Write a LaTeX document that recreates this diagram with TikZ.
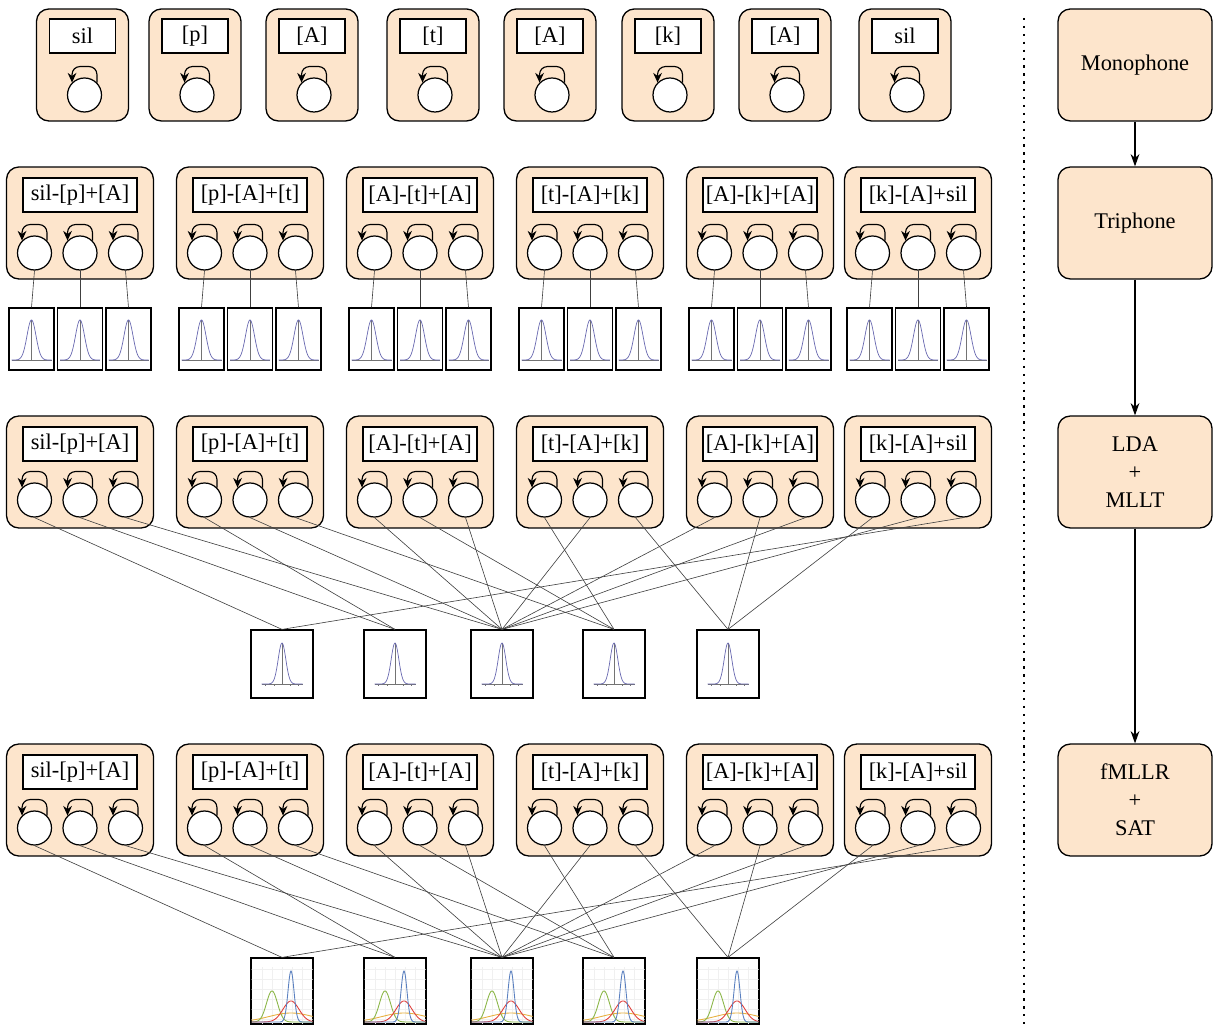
\documentclass[tikz,border=0pt]{standalone}
\usepackage{fontspec}
\setmainfont{Liberation Serif}
\usetikzlibrary{arrows.meta,calc}
\definecolor{boxfill}{HTML}{FDE5CC}
\definecolor{gcurve}{HTML}{6868B0}
\definecolor{mgreen}{HTML}{8AB646}
\definecolor{mblue}{HTML}{5A80C0}
\definecolor{mred}{HTML}{E0403C}
\definecolor{morange}{HTML}{E8B040}
\newcommand\gsingle[5]{%
  \begin{scope}[shift={(#1.center)}]
    \draw[black!55, line width=0.3pt] (-#2,#3) -- (#2,#3);
    \foreach \tk in {-0.8,-0.4,0.4,0.8} {\draw[black!55, line width=0.3pt] (\tk*#2,#3) -- ++(0,1.5);}
    \draw[black!55, line width=0.3pt] (0,#3) -- (0,#3-#4);
    \draw[gcurve, line width=0.4pt, domain=-#2:#2, samples=81, smooth] plot (\x,{#3-#4*exp(-(\x)*(\x)/(2*#5*#5))});
  \end{scope}}
\newcommand\gmix[1]{%
  \begin{scope}[shift={(#1.center)}]
    \clip (-30.5,-32.5) rectangle (30.5,32.5);
    \foreach \gx in {-20,-10,0,10,20} {\draw[black!6, line width=0.3pt] (\gx,-24) -- (\gx,33);}
    \foreach \gy in {-22,-12,-2,8,18,28} {\draw[black!6, line width=0.3pt] (-31,\gy) -- (31,\gy);}
    \draw[morange, line width=0.5pt, domain=-31:31, samples=125, smooth] plot (\x,{31-9*exp(-(\x-9)*(\x-9)/(2*22*22))});
    \draw[mgreen, line width=0.5pt, domain=-31:31, samples=125, smooth] plot (\x,{31-31*exp(-(\x+10)*(\x+10)/(2*5.5*5.5))});
    \draw[mred, line width=0.5pt, domain=-31:31, samples=125, smooth] plot (\x,{31-21*exp(-(\x-9)*(\x-9)/(2*8*8))});
    \draw[mblue, line width=0.5pt, domain=-31:31, samples=125, smooth] plot (\x,{31-51*exp(-(\x-9)*(\x-9)/(2*3*3))});
  \end{scope}
  \draw[black, line width=0.7pt] (#1.south west) rectangle (#1.north east);}
\tikzset{
  hmmbox/.style={draw=black, line width=0.75pt, fill=boxfill, rounded corners=7pt,
    minimum width=2.94cm, minimum height=2.24cm, inner sep=0pt},
  monobox/.style={hmmbox, minimum width=1.84cm},
  lab/.style={draw=black, line width=0.65pt, fill=white, minimum width=2.28cm,
    minimum height=0.68cm, inner sep=1pt, font=\fontsize{12.75}{15}\selectfont},
  monolab/.style={lab, minimum width=1.32cm},
  state/.style={circle, draw=black, line width=0.7pt, fill=white, minimum size=0.68cm, inner sep=0pt},
  selfloop/.style={draw=black, line width=0.65pt, rounded corners=4.5pt, -{Stealth[length=5.5pt,width=5pt]}},
  tie/.style={draw=black!75, line width=0.35pt},
  gbox/.style={draw=black, line width=0.7pt, fill=white, inner sep=0pt},
  stage/.style={hmmbox, minimum width=3.08cm, align=center, font=\fontsize{12.75}{15.9}\selectfont},
  flow/.style={draw=black, line width=0.6pt, -{Stealth[length=7pt,width=5pt]}},
  sep/.style={draw=black, line width=1.3pt, dash pattern=on 1.3pt off 3.2pt}
}
\begin{document}
\begin{tikzpicture}[x=0.02cm, y=-0.02cm]
\useasboundingbox (0,0) rectangle (1213,1026);
% ---------- monophone row
\foreach \cx/\lab [count=\i] in {82.5/sil, 195/{[p]}, 312/{[A]}, 433/{[t]}, 550/{[A]}, 668/{[k]}, 785/{[A]}, 905/sil} {
  \node[monobox] (m\i) at (\cx,65) {};
  \node[monolab] (ml\i) at (\cx,36) {\lab};
  \node[state] (ms\i) at (\cx+2,95) {};
  \path[selfloop] (ms\i.45) -- ++(0,-16) -| (ms\i.135);
}
% ---------- triphone rows
\foreach \cx/\lab [count=\i] in {80/{sil-[p]+[A]}, 250/{[p]-[A]+[t]}, 420/{[A]-[t]+[A]}, 590/{[t]-[A]+[k]}, 760/{[A]-[k]+[A]}, 918/{[k]-[A]+sil}} {
  % triphone
  \node[hmmbox] (t\i) at (\cx,223) {};
  \node[lab] (tl\i) at (\cx,195) {\lab};
  % LDA+MLLT
  \node[hmmbox] (l\i) at (\cx,472) {};
  \node[lab] (ll\i) at (\cx,444) {\lab};
  % fMLLR+SAT
  \node[hmmbox] (f\i) at (\cx,800) {};
  \node[lab] (fl\i) at (\cx,772) {\lab};
  \foreach \j/\dx in {1/-45.5,2/0,3/45.5} {
    \node[state] (ts\i\j) at (\cx+\dx,253) {};
    \path[selfloop] (ts\i\j.45) -- ++(0,-16) -| (ts\i\j.135);
    \node[state] (ls\i\j) at (\cx+\dx,500) {};
    \path[selfloop] (ls\i\j.45) -- ++(0,-16) -| (ls\i\j.135);
    \node[state] (fs\i\j) at (\cx+\dx,828) {};
    \path[selfloop] (fs\i\j.45) -- ++(0,-16) -| (fs\i\j.135);
    \node[gbox, minimum width=0.9cm, minimum height=1.24cm] (tg\i\j) at (\cx+\j*48.5-97,339) {};
    \gsingle{tg\i\j}{20}{21}{40}{4.5}
    \draw[tie] (ts\i\j.south) -- (tg\i\j.north);
  }
}
% ---------- tied gaussians
\foreach \gx [count=\g] in {282,395,502,614,728} {
  \node[gbox, minimum width=1.24cm, minimum height=1.36cm] (lg\g) at (\gx,664) {};
  \gsingle{lg\g}{20.5}{20}{41}{3.8}
  \node[gbox, minimum width=1.24cm, minimum height=1.32cm] (fg\g) at (\gx,991) {};
  \gmix{fg\g}
}
\foreach \b/\s/\g in {1/1/1,1/2/2,1/3/3,2/1/2,2/2/3,2/3/4,3/1/3,3/2/4,3/3/3,4/1/4,4/2/3,4/3/5,5/1/3,5/2/5,5/3/3,6/1/5,6/2/3,6/3/1} {
  \draw[tie] (ls\b\s.south) -- (lg\g.north);
  \draw[tie] (fs\b\s.south) -- (fg\g.north);
}
% ---------- separator
\coordinate (dtop) at (1024,18);
\coordinate (dbot) at (1024,1026);
\draw[sep] (dtop) -- (dbot);
% ---------- stages
\node[stage] (st1) at (1135,65) {Monophone};
\node[stage] (st2) at (1135,223) {Triphone};
\node[stage] (st3) at (1135,472) {LDA\\+\\MLLT};
\node[stage] (st4) at (1135,800) {fMLLR\\+\\SAT};
\draw[flow] (st1) -- (st2);
\draw[flow] (st2) -- (st3);
\draw[flow] (st3) -- (st4);
\end{tikzpicture}
\end{document}
